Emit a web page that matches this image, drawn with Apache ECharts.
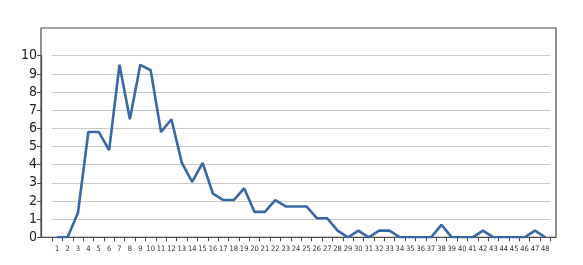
<!DOCTYPE html>
<html><head><meta charset="utf-8">
<script src="https://cdn.jsdelivr.net/npm/echarts@6/dist/echarts.min.js"></script>
<style>html,body{margin:0;padding:0;background:#fff}#c{width:583px;height:265px}</style>
</head><body><div id="c"></div>
<script>
var categories = [];
for (var i = 1; i <= 48; i++) categories.push(String(i));
var values = [0,0,1.35,5.8,5.8,4.8,9.5,6.5,9.5,9.2,5.8,6.5,4.1,3.05,4.1,2.4,2.05,2.05,2.7,1.4,1.4,2.05,1.7,1.7,1.7,1.05,1.05,0.37,0,0.37,0,0.37,0.37,0,0,0,0,0.68,0,0,0,0.37,0,0,0,0,0.37,0];
var yTicks = {min: 0, max: 10, interval: 1};
var font = '"Liberation Sans Narrow","DejaVu Sans Condensed",sans-serif';
var chart = echarts.init(document.getElementById('c'), null, {renderer: 'canvas'});
chart.setOption({
  animation: false,
  grid: [
    {left: 52, right: 32.5, top: 55.7, bottom: 27.7},
    {left: 41, right: 27, top: 28, bottom: 27.7, show: true, borderColor: '#4a4a4a', borderWidth: 1.2, backgroundColor: 'transparent'}
  ],
  xAxis: [
    {type: 'category', gridIndex: 0, data: categories, boundaryGap: true,
     axisLine: {show: true, lineStyle: {color: '#4a4a4a', width: 1.2}},
     axisTick: {show: true, length: 4, interval: 0, lineStyle: {color: '#4a4a4a'}},
     axisLabel: {interval: 0, fontSize: 7.5, color: '#333', fontFamily: font, margin: 8},
     splitLine: {show: false}},
    {type: 'value', gridIndex: 1, show: false}
  ],
  yAxis: [
    {type: 'value', gridIndex: 0, min: yTicks.min, max: yTicks.max, interval: yTicks.interval, offset: 11,
     axisLine: {show: true, lineStyle: {color: '#4a4a4a', width: 1.2}},
     axisTick: {show: true, length: 4, lineStyle: {color: '#4a4a4a'}},
     axisLabel: {fontSize: 14, color: '#222', fontFamily: font, margin: 4},
     splitLine: {show: true, lineStyle: {color: '#c8c8c8', width: 1}}},
    {type: 'value', gridIndex: 1, show: false}
  ],
  series: [{
    type: 'line', xAxisIndex: 0, yAxisIndex: 0, data: values,
    showSymbol: false, symbol: 'none',
    lineStyle: {color: '#3a67a6', width: 2.6},
    itemStyle: {color: '#3a67a6'}
  }]
});
</script></body></html>
